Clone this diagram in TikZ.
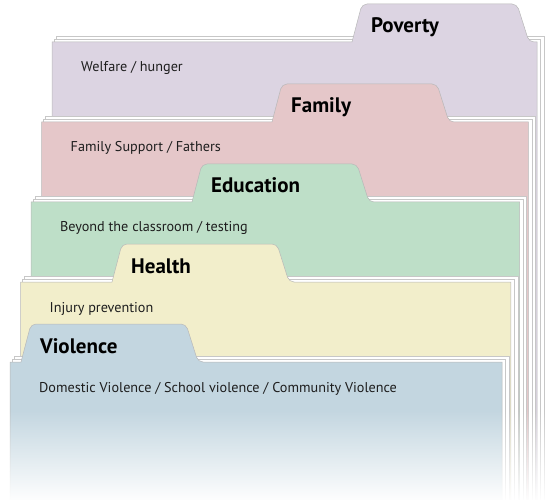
\documentclass[tikz,border=0pt]{standalone}
\usepackage{fontspec}
\setmainfont{PT Sans}
\usetikzlibrary{fadings}
\definecolor{folderPoverty}{HTML}{DCD4E2}
\definecolor{folderFamily}{HTML}{E5C7C9}
\definecolor{folderEducation}{HTML}{BEDFC8}
\definecolor{folderHealth}{HTML}{F2EECB}
\definecolor{folderViolence}{HTML}{C3D6E0}
\definecolor{folderInk}{HTML}{1E1E1E}
\tikzset{
  folder/sheet/.style={fill=white, draw=black!22, line width=0.5pt},
  folder/body/.style={draw=black!28, line width=0.5pt},
  folder/title/.style={font=\fontsize{21}{21}\selectfont\bfseries,
    text=black, anchor=base west, inner sep=0pt},
  folder/desc/.style={font=\fontsize{14.2}{14.2}\selectfont, text=folderInk,
    anchor=base west, inner sep=0pt},
}
\tikzfading[name=fade bottom, top color=transparent!100,
  bottom color=transparent!0]

\begin{document}
\begin{tikzpicture}[x=1pt, y=-1pt]
\useasboundingbox (0,0) rectangle (560,500);
% one folder per topic, back to front
\foreach \i/\tabx/\name/\desc in {
    0/352/Poverty/{Welfare / hunger},
    1/272/Family/{Family Support / Fathers},
    2/192/Education/{Beyond the classroom / testing},
    3/112/Health/{Injury prevention},
    4/21/Violence/{Domestic Violence / School violence / Community Violence}} {
  \pgfmathsetmacro\L{52-10.5*\i}
  \pgfmathsetmacro\T{42+80*\i}
  \pgfmathsetmacro\R{537-8.7*\i}
  % sheets behind the folder
  \draw[folder/sheet] (\L+4,\T-6) rectangle (\R+7,500);
  \draw[folder/sheet] (\L+2,\T-3) rectangle (\R+3.5,500);
  % folder with its tab
  \draw[folder/body, fill=folder\name] (\L,500) -- (\L,\T) -- (\tabx,\T)
    [rounded corners=5pt] -- (\tabx+10,\T-38) -- (\tabx+165,\T-38)
    -- (\tabx+177,\T) [sharp corners] -- (\R,\T) -- (\R,500) -- cycle;
  \node[folder/title] (\name-title) at (\tabx+19,\T-9) {\name};
  \node[folder/desc] (\name-desc) at (\L+29,\T+30) {\desc};
}
% fade out at the bottom
\fill[white, path fading=fade bottom] (0,410) rectangle (560,502);
\end{tikzpicture}
\end{document}
